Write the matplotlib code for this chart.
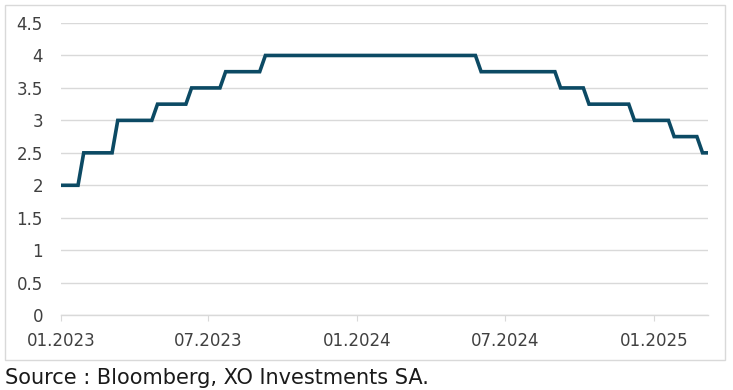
import matplotlib.pyplot as plt
import matplotlib.dates as mdates
from matplotlib.patches import Rectangle
import pandas as pd
import numpy as np

change_dates = ['2023-01-01', '2023-01-29', '2023-03-12', '2023-04-30', '2023-06-11',
                '2023-07-23', '2023-09-10', '2024-06-02', '2024-09-08', '2024-10-13',
                '2024-12-08', '2025-01-26', '2025-03-02']
levels = [2.0, 2.5, 3.0, 3.25, 3.5, 3.75, 4.0, 3.75, 3.5, 3.25, 3.0, 2.75, 2.5]
start_date = '2023-01-01'
end_date = '2025-03-09'

tick_dates = ['2023-01-01', '2023-07-01', '2024-01-01', '2024-07-01', '2025-01-01']
tick_labels = ['01.2023', '07.2023', '01.2024', '07.2024', '01.2025']
y_ticks = [0, 0.5, 1, 1.5, 2, 2.5, 3, 3.5, 4, 4.5]

line_color = '#0c4a64'
grid_color = '#d9d9d9'
text_color = '#404040'

plt.rcParams['font.family'] = ['DejaVu Sans']

# weekly series
weeks = pd.date_range(start_date, end_date, freq='7D')
steps = pd.Series(levels, index=pd.to_datetime(change_dates))
rate = steps.reindex(weeks, method='ffill')

fig = plt.figure(figsize=(7.33, 3.9), dpi=100)
ax = fig.add_axes([0.0832, 0.192, 0.883, 0.749])

ax.plot(rate.index, rate.values, color=line_color, linewidth=2.6, solid_joinstyle='miter')

ax.set_xlim(pd.Timestamp(start_date), pd.Timestamp(end_date))
ax.set_ylim(0, 4.5)
ax.set_yticks(y_ticks)
ax.set_yticklabels(['%g' % v for v in y_ticks])
ax.set_xticks(pd.to_datetime(tick_dates))
ax.set_xticklabels(tick_labels)

ax.grid(axis='y', color=grid_color, linewidth=1)
ax.set_axisbelow(True)
for s in ['top', 'right', 'left']:
    ax.spines[s].set_visible(False)
ax.spines['bottom'].set_color(grid_color)
ax.spines['bottom'].set_linewidth(1)
ax.tick_params(axis='y', length=0, pad=13, labelsize=12, labelcolor=text_color)
ax.tick_params(axis='x', length=4, color=grid_color, pad=8, labelsize=12, labelcolor=text_color)

# frame around the chart
fig.patches.append(Rectangle((0.0068, 0.077), 0.982, 0.91, transform=fig.transFigure,
                             fill=False, edgecolor=grid_color, linewidth=1))

fig.text(0.007, 0.031, 'Source : Bloomberg, XO Investments SA.', fontsize=15,
         color='#1a1a1a', va='center', ha='left')

fig.savefig('out.png', dpi=100)
